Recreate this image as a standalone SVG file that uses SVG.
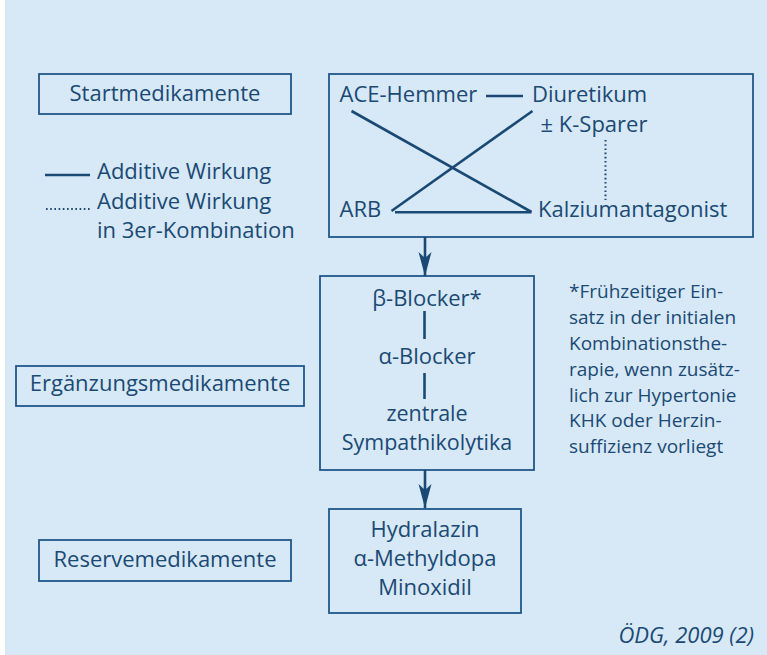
<svg xmlns="http://www.w3.org/2000/svg" width="767" height="655" viewBox="0 0 767 655">
<style>
text{font-family:"Open Sans","Noto Sans","Liberation Sans",sans-serif;fill:#1a4a74;font-size:22px}
.c{text-anchor:middle}
.fn{font-size:19px}
.box{fill:none;stroke:#22578a;stroke-width:1.8}
.ln{stroke:#1a4a74;stroke-width:2.6;fill:none}
.dot{stroke:#1a4a74;stroke-width:2;fill:none;stroke-dasharray:1.6 2.6}
</style>
<defs>
<marker id="arr" markerUnits="userSpaceOnUse" markerWidth="26" markerHeight="16" viewBox="-24 -8 26 16" refX="0" refY="0" orient="auto">
<path d="M0,0 L-24,-6.5 L-18,0 L-24,6.5 Z" fill="#1a4a74"/>
</marker>
</defs>
<rect x="5" y="0" width="762" height="655" fill="#d7e8f6"/>

<g id="startmedikamente">
<rect class="box" x="39" y="74" width="252" height="40"/>
<text class="c" x="165" y="101">Startmedikamente</text>
</g>

<g id="legend">
<line class="ln" x1="45" y1="175" x2="90" y2="175"/>
<text x="97" y="179">Additive Wirkung</text>
<line class="dot" x1="46" y1="209" x2="90" y2="209"/>
<text x="97" y="208.5">Additive Wirkung</text>
<text x="97" y="238">in 3er-Kombination</text>
</g>

<g id="startbox">
<rect class="box" x="329" y="74" width="424" height="163"/>
<text x="339.5" y="102">ACE-Hemmer</text>
<text x="532" y="102">Diuretikum</text>
<text x="540.5" y="132">± K-Sparer</text>
<text x="339.5" y="217">ARB</text>
<text x="538" y="217">Kalziumantagonist</text>
</g>

<g id="ergaenzungsmedikamente">
<rect class="box" x="16" y="366" width="288" height="40"/>
<text class="c" x="160" y="390.5">Ergänzungsmedikamente</text>
</g>

<g id="blockerbox">
<rect class="box" x="320" y="276" width="214" height="194"/>
<text class="c" x="427" y="305.5">β-Blocker*</text>
<text class="c" x="427" y="364">α-Blocker</text>
<text class="c" x="427" y="420.5" style="font-size:21.5px">zentrale</text>
<text class="c" x="427" y="450" style="font-size:21.5px">Sympathikolytika</text>
</g>

<g id="footnote">
<text class="fn" x="569" y="298">*Frühzeitiger Ein-</text>
<text class="fn" x="569" y="324">satz in der initialen</text>
<text class="fn" x="569" y="350">Kombinationsthe-</text>
<text class="fn" x="569" y="376">rapie, wenn zusätz-</text>
<text class="fn" x="569" y="401.5">lich zur Hypertonie</text>
<text class="fn" x="569" y="427">KHK oder Herzin-</text>
<text class="fn" x="569" y="453">suffizienz vorliegt</text>
</g>

<g id="reservemedikamente">
<rect class="box" x="39" y="540" width="252" height="41"/>
<text class="c" x="165" y="566.5">Reservemedikamente</text>
</g>

<g id="reservebox">
<rect class="box" x="329" y="509" width="192" height="104"/>
<text class="c" x="425" y="537">Hydralazin</text>
<text class="c" x="425" y="566">α-Methyldopa</text>
<text class="c" x="425" y="595">Minoxidil</text>
</g>

<g id="source">
<text x="754" y="643" style="text-anchor:end;font-style:italic">ÖDG, 2009 (2)</text>
</g>

<g id="connectors">
<line class="ln" x1="486" y1="96" x2="523" y2="96"/>
<line class="ln" x1="351.5" y1="111" x2="531.5" y2="212"/>
<line class="ln" x1="532.5" y1="111" x2="391.5" y2="211"/>
<line class="ln" x1="395" y1="212.3" x2="531.5" y2="212.3"/>
<line class="dot" x1="605.5" y1="140" x2="605.5" y2="200"/>
<line class="ln" x1="424.5" y1="311" x2="424.5" y2="339"/>
<line class="ln" x1="424.5" y1="373" x2="424.5" y2="399"/>
<line class="ln" x1="425" y1="237" x2="425" y2="276" marker-end="url(#arr)"/>
<line class="ln" x1="425" y1="470" x2="425" y2="508" marker-end="url(#arr)"/>
</g>
</svg>
